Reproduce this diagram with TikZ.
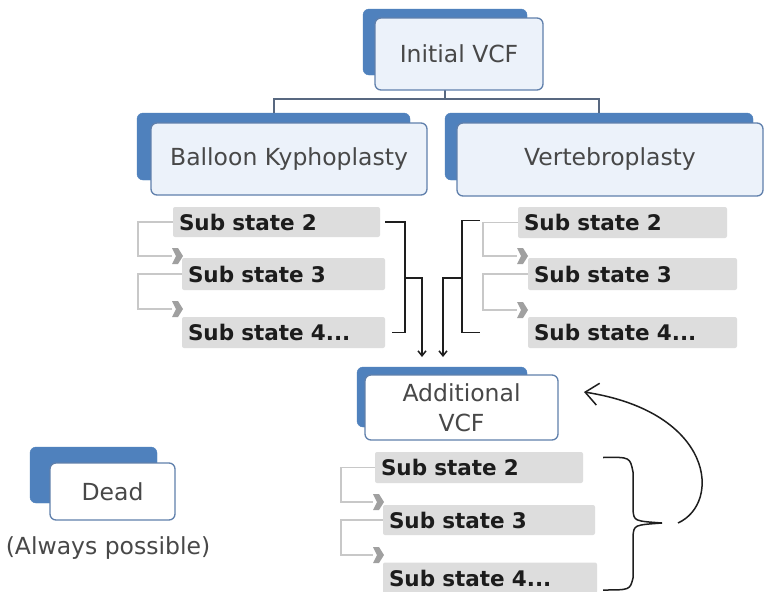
\documentclass[tikz,border=0pt]{standalone}
\usepackage{fontspec}
\setmainfont{DejaVu Sans}
\usetikzlibrary{arrows.meta,calc}
\definecolor{bback}{RGB}{79,129,189}
\definecolor{bedge}{RGB}{96,128,172}
\definecolor{lightblue}{RGB}{236,242,250}
\definecolor{htext}{RGB}{72,72,72}
\definecolor{stext}{RGB}{28,28,28}
\definecolor{sgray}{RGB}{221,221,221}
\definecolor{litec}{RGB}{200,200,200}
\definecolor{chevc}{RGB}{160,160,160}
\definecolor{treec}{RGB}{88,104,128}
\definecolor{blkc}{RGB}{30,30,30}
\newcommand{\hfont}{\fontsize{23.5}{30}\selectfont}
\newcommand{\sfont}{\fontsize{21.5}{26}\selectfont\bfseries}
\tikzset{
  backbox/.style={fill=bback, draw=bback, rounded corners=6pt, inner sep=0pt},
  frontbox/.style={draw=bedge, line width=1.3pt, fill=#1, rounded corners=6pt,
    text=htext, font=\hfont, inner sep=0pt, align=center},
  subbox/.style={fill=sgray, rounded corners=2pt, inner xsep=6pt, inner ysep=0pt, text=stext,
    font=\sfont, align=left},
  lite/.style={draw=litec, line width=1.6pt},
  tree/.style={draw=treec, line width=2pt},
  blk/.style={draw=blkc, line width=1.5pt},
  chev/.pic={\fill[chevc] (0,-8) -- (6,-8) -- (11,0) -- (6,8) -- (0,8) -- (4,0) -- cycle;}
}
\begin{document}
\begin{tikzpicture}[x=1pt,y=-1pt]
\useasboundingbox[fill=white] (0,0) rectangle (764,592);
% back boxes
\node[backbox, minimum width=164pt, minimum height=66pt] (ib) at (445,42) {};
\node[backbox, minimum width=273pt, minimum height=67pt] (kb) at (273.5,146.5) {};
\node[backbox, minimum width=308pt, minimum height=67pt] (vb) at (599,146.5) {};
\node[backbox, minimum width=170pt, minimum height=60pt] (ab) at (442,397) {};
\node[backbox, minimum width=127pt, minimum height=56pt] (db) at (93.5,475) {};
% tree lines
\coordinate (tj) at (445,99);
\draw[tree] (ib.south) -- (tj) -| (kb.north);
\draw[tree] (tj) -| (vb.north);
% front boxes
\node[frontbox=lightblue, minimum width=168pt, minimum height=72pt] (i) at (459,54) {Initial VCF};
\node[frontbox=lightblue, minimum width=276pt, minimum height=72pt] (k) at (289,159) {Balloon Kyphoplasty};
\node[frontbox=lightblue, minimum width=306pt, minimum height=73pt] (v) at (610,159.5) {Vertebroplasty};
\node[frontbox=white, minimum width=193pt, minimum height=65pt] (a) at (461.5,407.5) {Additional\\VCF};
\node[frontbox=white, minimum width=125pt, minimum height=57pt] (d) at (112.5,491.5) {Dead};
\node[text=htext, font=\hfont] (dl) at (108,548) {(Always possible)};
% sub state boxes, left
\node[subbox, text width=195pt, minimum height=30pt] (ls2) at (276.5,222) {Sub state 2};
\node[subbox, text width=191pt, minimum height=32pt] (ls3) at (283.5,274) {Sub state 3};
\node[subbox, text width=191pt, minimum height=31pt] (ls4) at (283.5,332.5) {Sub state 4...};
% right
\node[subbox, text width=197pt, minimum height=31pt] (rs2) at (622.5,222.5) {Sub state 2};
\node[subbox, text width=197pt, minimum height=32pt] (rs3) at (632.5,274) {Sub state 3};
\node[subbox, text width=197pt, minimum height=31pt] (rs4) at (632.5,332.5) {Sub state 4...};
% bottom
\node[subbox, text width=196pt, minimum height=31pt] (bs2) at (479,467.5) {Sub state 2};
\node[subbox, text width=200pt, minimum height=30pt] (bs3) at (489,520) {Sub state 3};
\node[subbox, text width=202pt, minimum height=31pt] (bs4) at (490,578) {Sub state 4...};
% light connectors and chevrons
\coordinate (lc1) at (172,256);
\coordinate (lc2) at (172,309);
\coordinate (rc1) at (517,256);
\coordinate (rc2) at (517,310);
\coordinate (bc1) at (373,502);
\coordinate (bc2) at (373,555);
\draw[lite] (ls2.west) -- ++(-35,0) |- (lc1);
\draw[lite] (ls3.west) -- ++(-44,0) |- (lc2);
\draw[lite] (rs2.west) -- ++(-35,0) |- (rc1);
\draw[lite] (rs3.west) -- ++(-45,0) |- (rc2);
\draw[lite] (bs2.west) -- ++(-34,0) |- (bc1);
\draw[lite] (bs3.west) -- ++(-42,0) |- (bc2);
\foreach \c in {lc1,lc2,rc1,rc2,bc1,bc2} \pic at (\c) {chev};
% black brackets and arrows
\coordinate (la) at (422,357);
\coordinate (ra) at (443,357);
\draw[blk] ($(ls2.east)+(5,0)$) -- ++(20,0) |- ($(ls4.east)+(7,0)$);
\draw[blk, -{Straight Barb[length=5pt,width=8pt]}] (405,278) -| (la);
\draw[blk] ($(rs2.west)+(-38,-2)$) -- ++(-18,0) |- ($(rs4.west)+(-48,0)$);
\draw[blk, -{Straight Barb[length=5pt,width=8pt]}] (462,278) -| (ra);
% curly brace
\coordinate (bt) at (662,523);
\draw[blk] ($(bs2.east)+(20,-10)$) .. controls (630,457) .. (633,472) -- (633,510)
  .. controls (634,521) .. (bt) .. controls (634,525) .. (633,536) -- (633,578)
  .. controls (630,590) .. (603,590);
% loop arrow
\coordinate (ls) at (678,523);
\coordinate (le) at (584,392);
\draw[blk, -{Straight Barb[length=13pt,width=22pt]}] (ls) .. controls (722,503) and (714,412) .. (le);
\end{tikzpicture}
\end{document}
